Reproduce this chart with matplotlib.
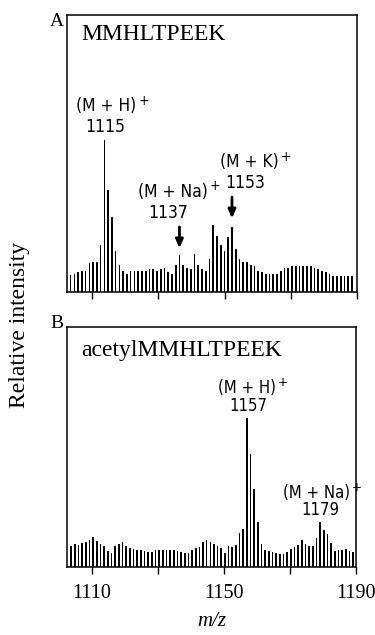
import numpy as np
import matplotlib
matplotlib.use("Agg")
import matplotlib.pyplot as plt

# ---------------- data ----------------
# Panel A: MMHLTPEEK  (relative intensity, base peak = 100)
mz_a_first, mz_a_last = 1103.5, 1188.5
int_a = [11, 12, 13, 14, 14, 19, 20, 20, 31, 100, 67, 49, 27, 18, 14, 12, 14, 14, 14, 14,
         14, 15, 15, 14, 15, 16, 13, 12, 18, 24, 18, 16, 15, 25, 18, 15, 14, 22, 44, 37,
         31, 27, 36, 43, 28, 22, 20, 20, 18, 17, 14, 13, 12, 12, 12, 12, 14, 16, 16, 17,
         17, 17, 17, 17, 17, 16, 15, 14, 13, 12, 10.5, 10.5, 10.5, 10.5, 10.5, 10.5]

# Panel B: acetylMMHLTPEEK
mz_b_first, mz_b_last = 1103.7, 1189.1
int_b = [14, 15.5, 15, 16, 17, 18, 20, 17.5, 15.5, 14, 11, 9.5, 14, 15.5, 17, 14, 13, 12,
         11.5, 11.5, 11, 10, 10, 11.5, 11.5,
         11.5, 11.5, 11.5, 11.5, 11, 10, 9.5, 9.5, 11.5, 13, 13.5, 17, 18, 17, 15.5, 14,
         13, 9.5, 14, 13.5, 15, 23, 25.5, 100, 76, 52, 30,
         15.5, 11.5, 11, 10, 9.5, 8.5, 8.5, 10, 12, 13.5, 15, 18, 15.5, 14, 14, 19.5, 30,
         25, 22, 16, 11, 11.5, 11.5, 12, 11, 10]

mz_a = np.linspace(mz_a_first, mz_a_last, len(int_a))
mz_b = np.linspace(mz_b_first, mz_b_last, len(int_b))

xticks = [1110, 1130, 1150, 1170, 1190]
xticklabels_b = ["1110", "", "1150", "", "1190"]

ann_a = [("(M + H)", "1115"), ("(M + Na)", "1137"), ("(M + K)", "1153")]
ann_b = [("(M + H)", "1157"), ("(M + Na)", "1179")]

# ---------------- style ----------------
serif = ["Liberation Serif", "DejaVu Serif"]
sans = ["DejaVu Sans"]

fig = plt.figure(figsize=(3.75, 6.35), dpi=100)
axA = fig.add_axes([67/375, 1-292/635, 290/375, 277/635])
axB = fig.add_axes([67/375, 1-567/635, 289/375, 240/635])

xlim = (1102.4, 1190)

for ax, mz, iv, ytop in [(axA, mz_a, int_a, 182), (axB, mz_b, int_b, 161)]:
    ax.bar(mz, iv, width=0.5, color="black", linewidth=0)
    ax.set_xlim(*xlim)
    ax.set_ylim(0, ytop)
    ax.set_yticks([])
    ax.set_xticks(xticks)
    ax.tick_params(axis="x", direction="out", length=5, width=1.0, color="black")
    for s in ax.spines.values():
        s.set_linewidth(1.1)

axA.set_xticklabels([])
axB.set_xticklabels(xticklabels_b, fontfamily=serif, fontsize=14.5)
axB.tick_params(axis="x", pad=7)
axB.set_xlabel("m/z", fontfamily=serif, fontstyle="italic", fontsize=15, labelpad=7)

fig.text(20/375, 1-325/635, "Relative intensity", rotation=90, ha="center", va="center",
         fontfamily=serif, fontsize=17)
fig.text(57/375, 1-22/635, "A", ha="center", va="center", fontfamily=serif, fontsize=14)
fig.text(57/375, 1-323/635, "B", ha="center", va="center", fontfamily=serif, fontsize=14)

axA.text(0.048, 0.928, "MMHLTPEEK", transform=axA.transAxes, ha="left", va="center",
         fontfamily=serif, fontsize=17)
axB.text(0.048, 0.904, "acetylMMHLTPEEK", transform=axB.transAxes, ha="left", va="center",
         fontfamily=serif, fontsize=17)


def label(ax, lab, num, p_lab, p_num, fs):
    t = ax.text(*p_lab, lab, transform=ax.transAxes, ha="left", va="center",
                fontfamily=sans, fontstretch="condensed", fontsize=fs)
    ax.annotate("+", xy=(1, 1), xycoords=t, xytext=(1.5, -2.5), textcoords="offset points",
                ha="left", va="center", fontfamily=sans, fontstretch="condensed",
                fontsize=fs - 2.5)
    ax.text(*p_num, num, transform=ax.transAxes, ha="center", va="center",
            fontfamily=sans, fontstretch="condensed", fontsize=fs)


fsA = 12.5
posA = [((0.031, 0.671), (0.131, 0.596)),
        ((0.245, 0.361), (0.348, 0.285)),
        ((0.528, 0.469), (0.614, 0.394))]
for (lab, num), (p1, p3) in zip(ann_a, posA):
    label(axA, lab, num, p1, p3, fsA)

for idx, (y0, y1) in [(29, (0.235, 0.158)), (43, (0.343, 0.266))]:
    x = mz_a[idx]
    axA.annotate("", xy=(x, y1*182), xytext=(x, y0*182),
                 arrowprops=dict(arrowstyle="-|>,head_length=0.5,head_width=0.22",
                                 color="black", lw=2.0, shrinkA=0, shrinkB=0))

fsB = 12
posB = [((0.522, 0.746), (0.626, 0.671)),
        ((0.747, 0.308), (0.875, 0.2375))]
for (lab, num), (p1, p3) in zip(ann_b, posB):
    label(axB, lab, num, p1, p3, fsB)

fig.savefig("out.png", dpi=100)
